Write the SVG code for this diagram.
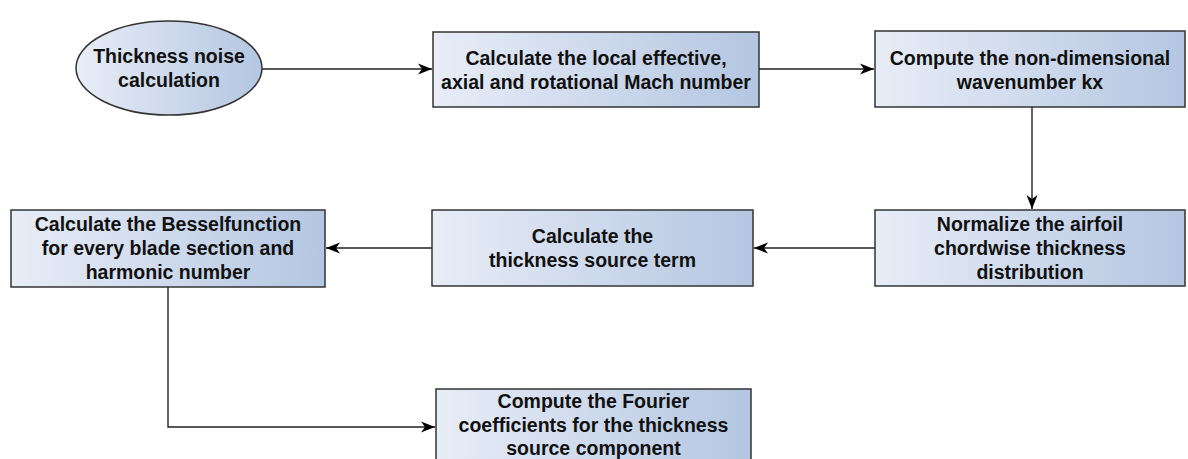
<svg xmlns="http://www.w3.org/2000/svg" width="1188" height="459" viewBox="0 0 1188 459">
  <defs>
    <linearGradient id="fillGrad" x1="0" y1="0" x2="1" y2="0">
      <stop offset="0" stop-color="#e8edf7"/>
      <stop offset="1" stop-color="#b4c6e1"/>
    </linearGradient>
    <marker id="arrow" markerUnits="userSpaceOnUse" markerWidth="16" markerHeight="14" viewBox="-15 -7 16 14" refX="0" refY="0" orient="auto">
      <path d="M0,0 L-14,-5.5 L-10,0 L-14,5.5 Z" fill="#000"/>
    </marker>
    <style>
      .node { fill: url(#fillGrad); stroke: #333333; stroke-width: 1.5; }
      .label { font-family: "Liberation Sans", Arial, sans-serif; font-weight: bold; font-size: 19.5px; fill: #111111; text-anchor: middle; }
      .edge { fill: none; stroke: #222222; stroke-width: 1.4; marker-end: url(#arrow); }
    </style>
  </defs>
  <rect width="1188" height="459" fill="#ffffff"/>

  <g id="connectors">
    <path class="edge" d="M262,69 L432,69"/>
    <path class="edge" d="M759,69 L874,69"/>
    <path class="edge" d="M1032,107 L1032,209"/>
    <path class="edge" d="M875,248 L754,248"/>
    <path class="edge" d="M432,248 L326,248"/>
    <path class="edge" d="M168,287 L168,427 L435,427"/>
  </g>

  <g id="start">
    <ellipse class="node" cx="169" cy="68" rx="93" ry="47"/>
    <text class="label" x="169" y="63">Thickness noise</text>
    <text class="label" x="169" y="87">calculation</text>
  </g>

  <g id="mach">
    <rect class="node" x="433" y="32" width="326" height="75"/>
    <text class="label" x="596" y="64.5">Calculate the local effective,</text>
    <text class="label" x="596" y="88.5">axial and rotational Mach number</text>
  </g>

  <g id="wavenumber">
    <rect class="node" x="875" y="31" width="310" height="76"/>
    <text class="label" x="1030" y="64.5">Compute the non-dimensional</text>
    <text class="label" x="1030" y="88.5">wavenumber kx</text>
  </g>

  <g id="normalize">
    <rect class="node" x="875" y="210" width="310" height="76"/>
    <text class="label" x="1030" y="231">Normalize the airfoil</text>
    <text class="label" x="1030" y="255">chordwise thickness</text>
    <text class="label" x="1030" y="279">distribution</text>
  </g>

  <g id="source-term">
    <rect class="node" x="432" y="210" width="321" height="76"/>
    <text class="label" x="592.5" y="243">Calculate the</text>
    <text class="label" x="592.5" y="267">thickness source term</text>
  </g>

  <g id="bessel">
    <rect class="node" x="11" y="210" width="314" height="77"/>
    <text class="label" x="168" y="231">Calculate the Besselfunction</text>
    <text class="label" x="168" y="255">for every blade section and</text>
    <text class="label" x="168" y="279">harmonic number</text>
  </g>

  <g id="fourier">
    <rect class="node" x="436" y="389" width="315" height="78"/>
    <text class="label" x="593.5" y="408">Compute the Fourier</text>
    <text class="label" x="593.5" y="432">coefficients for the thickness</text>
    <text class="label" x="593.5" y="455">source component</text>
  </g>
</svg>
